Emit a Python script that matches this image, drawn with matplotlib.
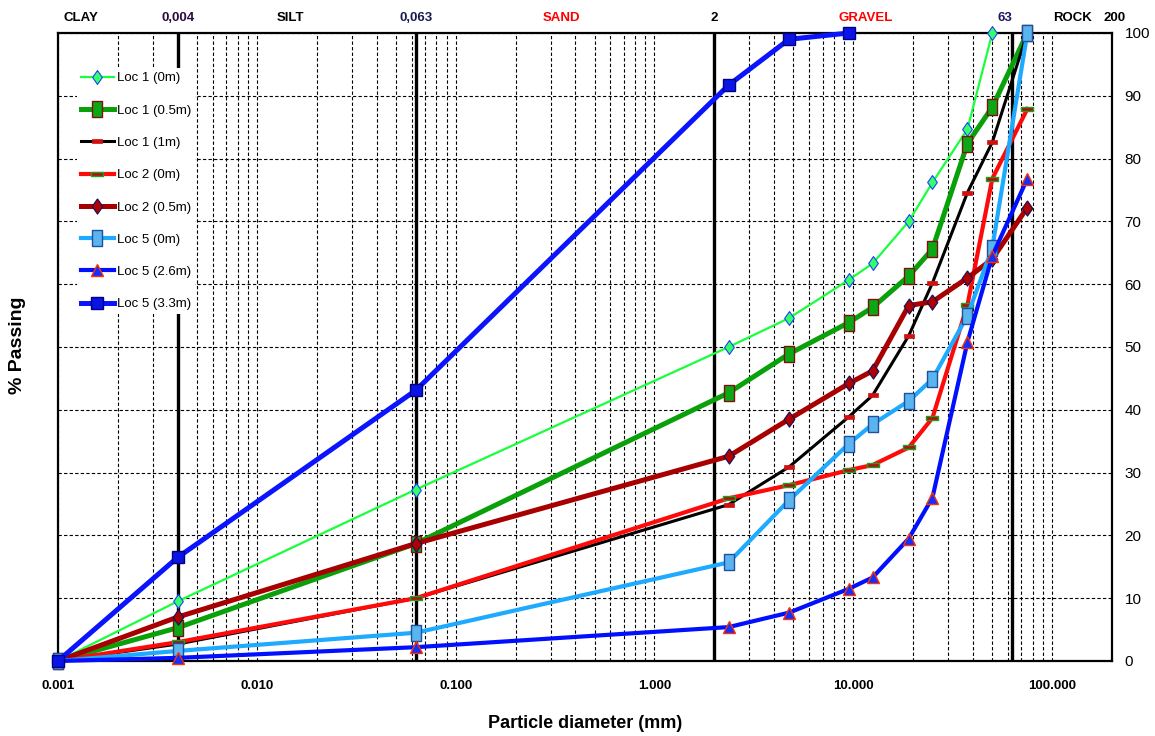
import matplotlib
matplotlib.use("Agg")
import matplotlib.pyplot as plt
from matplotlib.ticker import FixedLocator, FuncFormatter, NullFormatter

# sieve sizes (mm)
sizes = [0.001, 0.004, 0.063, 2.36, 4.75, 9.5, 12.5, 19, 25, 37.5, 50, 75]

# % passing
loc1_0m = [0, 9.5, 27.3, 50.0, 54.6, 60.7, 63.3, 70.0, 76.2, 84.7, 100]
loc1_05m = [0, 5.3, 18.7, 42.7, 48.9, 53.9, 56.3, 61.3, 65.6, 82.4, 88.2, 100]
loc1_1m = [0, 2.7, 10.0, 24.9, 30.9, 38.9, 42.3, 51.8, 60.2, 74.6, 82.6, 100]
loc2_0m = [0, 3.0, 10.0, 25.9, 28.0, 30.4, 31.2, 34.0, 38.7, 56.7, 76.8, 87.9]
loc2_05m = [0, 7.0, 18.7, 32.6, 38.5, 44.2, 46.2, 56.6, 57.2, 61.0, 64.0, 72.2]
loc5_0m = [0, 1.6, 4.5, 15.7, 25.6, 34.6, 37.7, 41.4, 44.9, 55.0, 65.8, 100]
loc5_26m = [0, 0.5, 2.2, 5.4, 7.7, 11.5, 13.3, 19.5, 26.0, 50.8, 64.5, 76.8]
loc5_33m = [0, 16.5, 43.1, 91.7, 99.0, 100]

# soil class boundaries and top labels
bounds = [0.004, 0.063, 2, 63]
top_labels = ["CLAY", "0,004", "SILT", "0,063", "SAND", "2", "GRAVEL", "63", "ROCK", "200"]
top_pos = [0.0013, 0.004, 0.0148, 0.063, 0.34, 2, 11.6, 58, 126, 205]
top_colors = ["black", "#2a0a40", "black", "#1a1a50", "red", "black", "red", "#1a1a60", "black", "black"]

plt.rcParams["font.family"] = ["Liberation Sans", "DejaVu Sans"]

fig = plt.figure(figsize=(11.55, 7.36), dpi=100)
ax = fig.add_axes([58 / 1155, 1 - 661 / 736, (1112 - 58) / 1155, (661 - 33) / 736])

# custom marker shapes (taller than wide, like the original)
rect = [(-0.7, -1), (0.7, -1), (0.7, 1), (-0.7, 1), (-0.7, -1)]
diam = [(0, 1), (0.7, 0), (0, -1), (-0.7, 0), (0, 1)]
dash = [(-1, -0.35), (1, -0.35), (1, 0.35), (-1, 0.35), (-1, -0.35)]

ax.plot(sizes[:len(loc1_0m)], loc1_0m, color="#19ff3c", lw=1.6, marker=diam, ms=10,
        mfc="#33ff66", mec="#2040ff", mew=0.8, label="Loc 1 (0m)", clip_on=False, zorder=5)
ax.plot(sizes, loc1_05m, color="#0aa00a", lw=3.6, marker=rect, ms=11,
        mfc="#0aa814", mec="#801010", mew=1.0, label="Loc 1 (0.5m)", clip_on=False, zorder=5)
ax.plot(sizes, loc1_1m, color="black", lw=2.2, marker=dash, ms=7,
        mfc="#d01010", mec="#d01010", mew=0.5, label="Loc 1 (1m)", clip_on=False, zorder=5)
ax.plot(sizes, loc2_0m, color="#ff0a0a", lw=3.0, marker=dash, ms=9,
        mfc="#b01010", mec="#20a020", mew=1.0, label="Loc 2 (0m)", clip_on=False, zorder=5)
ax.plot(sizes, loc2_05m, color="#a80000", lw=3.6, marker=diam, ms=11,
        mfc="#b00000", mec="#101060", mew=0.8, label="Loc 2 (0.5m)", clip_on=False, zorder=5)
ax.plot(sizes, loc5_0m, color="#1eaaff", lw=3.0, marker=rect, ms=11,
        mfc="#5ab4ee", mec="#1f4f9f", mew=1.0, label="Loc 5 (0m)", clip_on=False, zorder=5)
ax.plot(sizes, loc5_26m, color="#0010ff", lw=3.0, marker="^", ms=9,
        mfc="#1030ff", mec="#ff3000", mew=1.0, label="Loc 5 (2.6m)", clip_on=False, zorder=5)
ax.plot(sizes[:len(loc5_33m)], loc5_33m, color="#0a14ff", lw=3.6, marker="s", ms=8,
        mfc="#0a14e6", mec="#000080", mew=1.0, label="Loc 5 (3.3m)", clip_on=False, zorder=5)

ax.set_xscale("log")
ax.set_xlim(0.001, 200)
ax.set_ylim(0, 100)

# grid
ax.grid(True, which="both", axis="x", color="black", linestyle=(0, (3, 2)), lw=0.8)
ax.set_yticks(range(0, 101, 10))
ax.grid(True, which="major", axis="y", color="black", linestyle=(0, (3, 2)), lw=0.8)

# class boundaries
for b in bounds:
    ax.axvline(b, color="black", lw=2.4, zorder=3)

# ticks
ax.xaxis.set_major_locator(FixedLocator([0.001, 0.01, 0.1, 1, 10, 100]))
ax.xaxis.set_major_formatter(FuncFormatter(lambda v, p: "%.3f" % v))
ax.xaxis.set_minor_formatter(NullFormatter())
ax.yaxis.tick_right()
ax.tick_params(which="both", length=0)
ax.tick_params(axis="x", labelsize=9.5, pad=14)
ax.tick_params(axis="y", labelsize=11, pad=9)
for lab in ax.get_xticklabels():
    lab.set_fontweight("bold")

for s in ax.spines.values():
    s.set_linewidth(1.6)

# top labels
for txt, xp, c in zip(top_labels, top_pos, top_colors):
    ax.text(xp, 1.024, txt, transform=ax.get_xaxis_transform(), ha="center", va="center",
            fontsize=9.5, fontweight="bold", color=c)

ax.set_xlabel("Particle diameter (mm)", fontsize=13, fontweight="bold", labelpad=16)
fig.text(18 / 1155, 1 - 345 / 736, "% Passing", rotation=90, ha="center", va="center",
         fontsize=14, fontweight="bold")

leg = ax.legend(loc="upper left", bbox_to_anchor=(0.018, 0.944), fontsize=9.5,
                frameon=True, fancybox=False, edgecolor="none", facecolor="white",
                framealpha=1, labelspacing=1.52, handlelength=2.5, handletextpad=0.2,
                borderpad=0.3, numpoints=1, borderaxespad=0)
leg.set_zorder(6)

fig.savefig("out.png", dpi=100)
